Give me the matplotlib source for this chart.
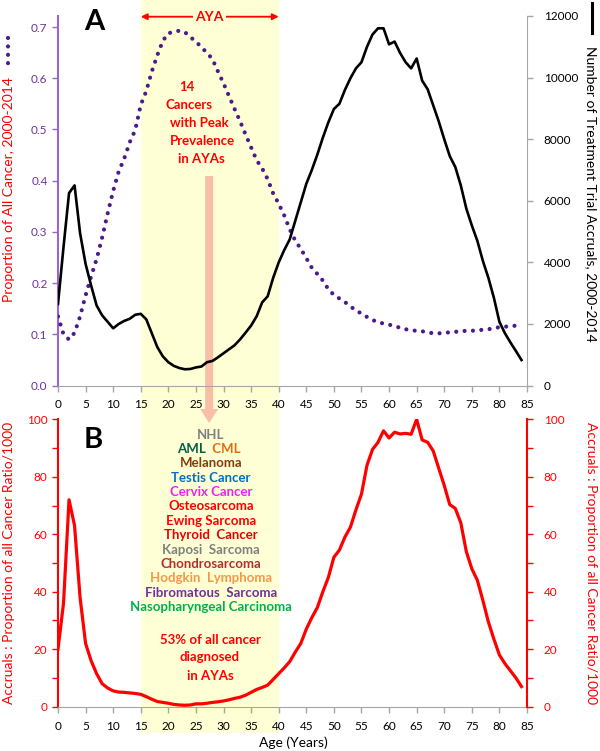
import matplotlib
matplotlib.use("Agg")
import matplotlib.pyplot as plt
from matplotlib.patches import Rectangle, Polygon
from matplotlib.lines import Line2D
from matplotlib.transforms import blended_transform_factory
import numpy as np

plt.rcParams['font.family'] = ['Lato', 'DejaVu Sans']

ages = list(range(0, 85))
accruals = [2650, 4500, 6250, 6500, 4950, 3950, 3250, 2600, 2280, 2070,
            1860, 2000, 2100, 2170, 2300, 2330, 2150, 1700, 1250, 950,
            760, 640, 570, 530, 540, 590, 620, 760, 800, 920,
            1050, 1180, 1310, 1500, 1720, 1950, 2250, 2700, 2900, 3500,
            4000, 4400, 4750, 5350, 5950, 6550, 7000, 7500, 8050, 8550,
            8980, 9150, 9600, 9980, 10300, 10500, 11000, 11400, 11600, 11600,
            11080, 11170, 10800, 10500, 10300, 10620, 9900, 9620, 9100, 8580,
            8000, 7450, 7100, 6500, 5750, 5200, 4700, 4050, 3500, 2850,
            2070, 1700, 1400, 1120, 830]
proportion = [0.135, 0.100, 0.090, 0.103, 0.135, 0.176, 0.213, 0.247, 0.289, 0.336,
              0.380, 0.418, 0.443, 0.475, 0.499, 0.548, 0.575, 0.613, 0.645, 0.673,
              0.688, 0.690, 0.693, 0.690, 0.680, 0.672, 0.660, 0.650, 0.637, 0.613,
              0.590, 0.565, 0.540, 0.516, 0.490, 0.465, 0.440, 0.424, 0.403, 0.375,
              0.355, 0.332, 0.305, 0.283, 0.267, 0.249, 0.230, 0.218, 0.205, 0.188,
              0.177, 0.170, 0.163, 0.155, 0.146, 0.141, 0.134, 0.128, 0.124, 0.121,
              0.119, 0.116, 0.113, 0.110, 0.108, 0.107, 0.106, 0.104, 0.102, 0.102,
              0.103, 0.104, 0.105, 0.106, 0.107, 0.107, 0.108, 0.109, 0.110, 0.112,
              0.114, 0.115, 0.116, 0.117, 0.119]
ratio = [20, 36, 72, 63, 38, 22, 16, 11.5, 8, 6.5,
         5.5, 5.1, 5.0, 4.8, 4.6, 4.3, 3.5, 2.6, 1.8, 1.5,
         1.2, 0.8, 0.6, 0.5, 0.6, 1.0, 1.0, 1.2, 1.5, 1.7,
         2.0, 2.4, 2.9, 3.3, 4.0, 5.0, 6.0, 6.7, 7.5, 9.5,
         11.5, 13.5, 15.7, 19, 22, 27, 31, 34.5, 40, 45,
         52, 54.5, 59, 62.5, 68.5, 74, 84, 89.5, 92, 96,
         93.5, 95.5, 94.9, 95.1, 94.8, 100, 92.8, 92, 89, 83,
         77, 70.3, 69, 64, 54, 48, 44, 37, 29.5, 23.5,
         18, 15, 12.5, 10, 7]

aya_range = [15, 40]
arrow_age = 27.4
xticks = list(range(0, 90, 5))

cancer_list = [
    ("NHL", "#7F7F7F"),
    (None, None),  # AML / CML line handled separately
    ("Melanoma", "#843C0C"),
    ("Testis Cancer", "#0070C0"),
    ("Cervix Cancer", "#F020F0"),
    ("Osteosarcoma", "#FF0000"),
    ("Ewing Sarcoma", "#FF0000"),
    ("Thyroid  Cancer", "#E80000"),
    ("Kaposi  Sarcoma", "#7F7F7F"),
    ("Chondrosarcoma", "#B03030"),
    ("Hodgkin  Lymphoma", "#F79646"),
    ("Fibromatous  Sarcoma", "#7030A0"),
    ("Nasopharyngeal Carcinoma", "#00B050"),
]

W, H = 600, 751
fig = plt.figure(figsize=(6, 7.51), dpi=100)

def fx(px):
    return px / W

def fy(py):
    return 1 - py / H

ax1 = fig.add_axes([fx(58), fy(385.6), fx(527) - fx(58), fy(16) - fy(385.6)])
ax2 = fig.add_axes([fx(58), fy(706.7), fx(527) - fx(58), fy(419.3) - fy(706.7)])
for a in (ax1, ax2):
    a.set_facecolor('none')

purple = '#4B1A8C'
grey = '#A6A6A6'

# ---- Top panel ----
ax1.plot(ages, proportion, color=purple, lw=3.0, linestyle=(0, (0.01, 2.0)),
         dash_capstyle='round', zorder=3)
ax1.set_xlim(0, 85)
ax1.set_ylim(0, 0.7215)
ax1.set_yticks([0, 0.1, 0.2, 0.3, 0.4, 0.5, 0.6, 0.7])
ax1.set_yticklabels(['0.0', '0.1', '0.2', '0.3', '0.4', '0.5', '0.6', '0.7'])
ax1.set_xticks(xticks)
ax1.tick_params(axis='y', colors='#9966CC', labelcolor='#7030A0', labelsize=8.5,
                direction='out', length=4, width=1)
ax1.tick_params(axis='x', colors=grey, labelcolor='black', labelsize=8.5,
                direction='out', length=4, width=1, pad=6)
ax1.spines['top'].set_visible(False)
ax1.spines['right'].set_visible(False)
ax1.spines['left'].set_color('#9966CC')
ax1.spines['left'].set_linewidth(1.5)
ax1.spines['bottom'].set_color(grey)

ax1r = ax1.twinx()
ax1r.set_facecolor('none')
ax1r.plot(ages, accruals, color='black', lw=1.9, zorder=3)
ax1r.set_ylim(0, 12000)
ax1r.set_yticks(range(0, 12001, 2000))
ax1r.tick_params(axis='y', colors=grey, labelcolor='black', labelsize=8.5,
                 direction='out', length=4, width=1, pad=8)
for s in ('top', 'left', 'bottom'):
    ax1r.spines[s].set_visible(False)
ax1r.spines['right'].set_color(grey)

# ---- Bottom panel ----
red = '#FF0000'
ax2.plot(ages, ratio, color=red, lw=2.3, zorder=3)
ax2.set_xlim(0, 85)
ax2.set_ylim(0, 100)
ax2.set_yticks(range(0, 101, 20))
ax2.set_yticks(range(10, 100, 20), minor=True)
ax2.set_xticks(xticks)
ax2.tick_params(axis='y', which='both', colors=red, labelcolor=red, labelsize=8.5,
                direction='out', length=4, width=1)
ax2.tick_params(axis='x', colors=grey, labelcolor='black', labelsize=8.5,
                direction='out', length=4, width=1, pad=6)
ax2.spines['top'].set_visible(False)
ax2.spines['right'].set_visible(False)
ax2.spines['left'].set_color(red)
ax2.spines['left'].set_linewidth(1.5)
ax2.spines['bottom'].set_color(grey)

ax2r = ax2.twinx()
ax2r.set_facecolor('none')
ax2r.set_ylim(0, 100)
ax2r.set_yticks(range(0, 101, 20))
ax2r.set_yticks(range(10, 100, 20), minor=True)
ax2r.tick_params(axis='y', which='both', colors=red, labelcolor=red, labelsize=8.5,
                 direction='out', length=4, width=1, pad=8)
for s in ('top', 'left', 'bottom'):
    ax2r.spines[s].set_visible(False)
ax2r.spines['right'].set_color(red)
ax2r.spines['right'].set_linewidth(1.5)

# ---- Figure-level decorations ----
bt = blended_transform_factory(ax1.transData, fig.transFigure)
fig.add_artist(Rectangle((aya_range[0], fy(733)), aya_range[1] - aya_range[0],
                         fy(0) - fy(733), transform=bt, facecolor='#FFFFD6',
                         edgecolor='none', zorder=-5))

# pink arrow
x0 = ax1.transData.transform((arrow_age, 0))[0]
bw, hw = 4.0, 9.0
ytop, yneck, ytip = 176, 409, 423
pts = [(x0 - bw, ytop), (x0 + bw, ytop), (x0 + bw, yneck), (x0 + hw, yneck),
       (x0, ytip), (x0 - hw, yneck), (x0 - bw, yneck)]
fig.add_artist(Polygon([(fx(a), fy(b)) for a, b in pts], closed=True,
                       transform=fig.transFigure, facecolor='#F9BFA6',
                       edgecolor='none', zorder=-4))

# AYA arrow
ay = fy(16.7)
fig.add_artist(matplotlib.patches.FancyArrowPatch(
    (aya_range[0], ay), (aya_range[1], ay), transform=bt, arrowstyle='<|-|>',
    mutation_scale=9, color=red, lw=1.3, shrinkA=0, shrinkB=0, zorder=2))
fig.text(np.mean(aya_range) / 85 * (fx(527) - fx(58)) + fx(58) - 0.0, ay, 'AYA',
         ha='center', va='center', color=red, fontsize=10, fontweight='bold',
         bbox=dict(facecolor='#FFFFD6', edgecolor='none', pad=1.5), zorder=3)

# Panel letters
fig.text(fx(94), fy(22), 'A', ha='center', va='center', fontsize=21, fontweight='bold')
fig.text(fx(93), fy(440), 'B', ha='center', va='center', fontsize=21, fontweight='bold')

# Text in panel A
for txt, cx, by in [("14", 187, 91), ("Cancers", 189, 109), ("with Peak", 199, 127),
                    ("Prevalence", 202, 145), ("in AYAs", 201, 163)]:
    fig.text(fx(cx), fy(by), txt, ha='center', va='baseline', color=red,
             fontsize=9.5, fontweight='bold')

# List in panel B
base0, step = 438.5, 14.4
for i, (txt, col) in enumerate(cancer_list):
    by = base0 + i * step
    if txt is None:
        fig.text(fx(209), fy(by), 'AML ', ha='right', va='baseline', color='#006040',
                 fontsize=9.5, fontweight='bold')
        fig.text(fx(209), fy(by), ' CML', ha='left', va='baseline', color='#E46C0A',
                 fontsize=9.5, fontweight='bold')
        continue
    fig.text(fx(211), fy(by), txt, ha='center', va='baseline', color=col,
             fontsize=9.5, fontweight='bold')

for txt, by in [("53% of all cancer", 644), ("diagnosed", 661), ("in AYAs", 680)]:
    fig.text(fx(210), fy(by), txt, ha='center', va='baseline', color=red,
             fontsize=9.5, fontweight='bold')

# Axis labels
fig.text(fx(9), fy(190), 'Proportion of All Cancer, 2000-2014', rotation=90,
         ha='center', va='center', color=red, fontsize=10)
fig.add_artist(Line2D([fx(8), fx(8)], [fy(38), fy(64)], color=purple, lw=3.0,
                      linestyle=(0, (0.01, 2.0)), dash_capstyle='round'))
fig.text(fx(591), fy(194), 'Number of Treatment Trial Accruals, 2000-2014', rotation=-90,
         ha='center', va='center', color='black', fontsize=10)
fig.add_artist(Line2D([fx(592), fx(592)], [fy(3), fy(33)], color='black', lw=2.2))

fig.text(fx(9), fy(563), 'Accruals : Proportion of all Cancer Ratio/1000', rotation=90,
         ha='center', va='center', color=red, fontsize=10)
fig.text(fx(591), fy(563), 'Accruals : Proportion of all Cancer Ratio/1000', rotation=-90,
         ha='center', va='center', color=red, fontsize=10)
fig.text(fx(293), fy(743), 'Age (Years)', ha='center', va='center', color='black',
         fontsize=10)

fig.savefig('out.png', dpi=100)
